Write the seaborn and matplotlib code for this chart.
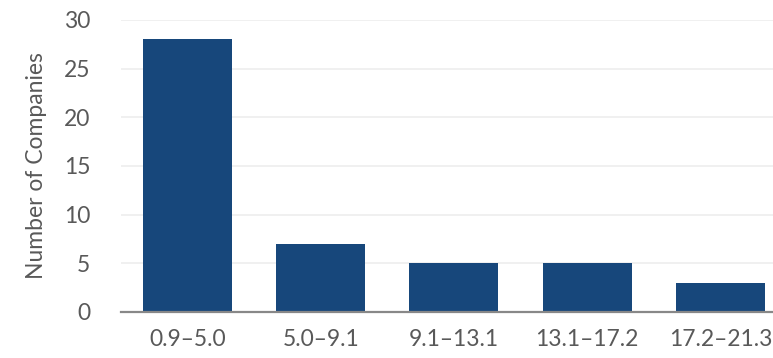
import matplotlib
matplotlib.use("Agg")
import matplotlib.pyplot as plt
import seaborn as sns
import pandas as pd

# Data
bins = ["0.9\u20135.0", "5.0\u20139.1", "9.1\u201313.1", "13.1\u201317.2", "17.2\u201321.3"]
counts = [28, 7, 5, 5, 3]

df = pd.DataFrame({"Range": bins, "Companies": counts})

sns.set_style("white")
plt.rcParams["font.family"] = ["Lato", "DejaVu Sans"]

fig = plt.figure(figsize=(7.73, 3.58), dpi=100)
ax = fig.add_axes([120.9 / 773, 46 / 358, (787 - 120.9) / 773, (312 - 20) / 358])

sns.barplot(data=df, x="Range", y="Companies", color="#17477B", width=0.668,
            saturation=1, linewidth=0, ax=ax, zorder=3)

ax.set_xlim(-0.5, 4.5)
ax.set_ylim(0, 30)
ax.set_yticks(range(0, 31, 5))
ax.yaxis.grid(True, color="#EEEEEE", linewidth=1.2, zorder=0)
ax.set_xlabel("")
ax.set_ylabel("Number of Companies", fontsize=16.5, color="#595959", labelpad=12)
ax.tick_params(axis="both", labelsize=16.5, labelcolor="#595959", length=0)
ax.tick_params(axis="x", pad=12)
ax.tick_params(axis="y", pad=22)

for s in ["top", "right", "left"]:
    ax.spines[s].set_visible(False)
ax.spines["bottom"].set_color("#888888")
ax.spines["bottom"].set_linewidth(1.6)
ax.spines["bottom"].set_zorder(4)

fig.savefig("out.png", dpi=100)
